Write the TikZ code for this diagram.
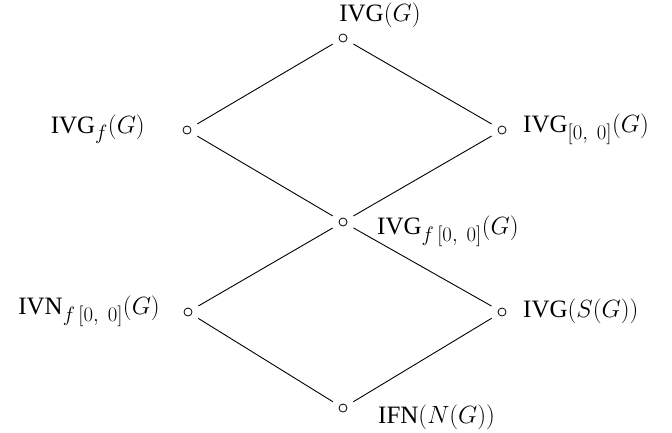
\documentclass[tikz,border=0pt]{standalone}
\usepackage{fontspec}
\setmainfont{Liberation Serif}
\newcommand\lbltext[1]{{\fontsize{25}{30}\selectfont #1}}
\newcommand\lblsub[1]{_{\mbox{\fontsize{22}{26}\selectfont$#1$}}}
\begin{document}
\begin{tikzpicture}[x=1pt,y=-1pt,
  vert/.style={circle,draw,line width=0.8pt,minimum size=8pt,inner sep=0pt,outer sep=8pt},
  edge/.style={line width=0.9pt},
  lbl/.style={inner sep=0pt,font=\fontsize{27}{32}\selectfont}]
\useasboundingbox (0,0) rectangle (672,432);
% vertices of the lattice
\node[vert] (top) at (343,38) {};
\node[vert] (lu)  at (187,130) {};
\node[vert] (ru)  at (502,130) {};
\node[vert] (mid) at (343,222) {};
\node[vert] (ll)  at (188,312) {};
\node[vert] (rl)  at (502,312) {};
\node[vert] (bot) at (343,408) {};
% labels
\node[lbl,anchor=south] (ttop) at (380,28) {\lbltext{IVG}$(G)$};
\node[lbl,anchor=east] (tlu) at (145,129) {\lbltext{IVG}$\lblsub{f}(G)$};
\node[lbl,anchor=west] (tru) at (523,129) {\lbltext{IVG}$\lblsub{[0,\ 0]}(G)$};
\node[lbl,anchor=west] (tmid) at (377,231) {\lbltext{IVG}$\lblsub{f\,[0,\ 0]}(G)$};
\node[lbl,anchor=east] (tll) at (160,311) {\lbltext{IVN}$\lblsub{f\,[0,\ 0]}(G)$};
\node[lbl,anchor=west] (trl) at (523,311) {\lbltext{IVG}$(S(G))$};
\node[lbl,anchor=west] (tbot) at (378,417) {\lbltext{IFN}$(N(G))$};
% order relations
\draw[edge] (top) -- (lu);
\draw[edge] (top) -- (ru);
\draw[edge] (lu) -- (mid);
\draw[edge] (ru) -- (mid);
\draw[edge] (mid) -- (ll);
\draw[edge] (mid) -- (rl);
\draw[edge] (ll) -- (bot);
\draw[edge] (rl) -- (bot);
\end{tikzpicture}
\end{document}
